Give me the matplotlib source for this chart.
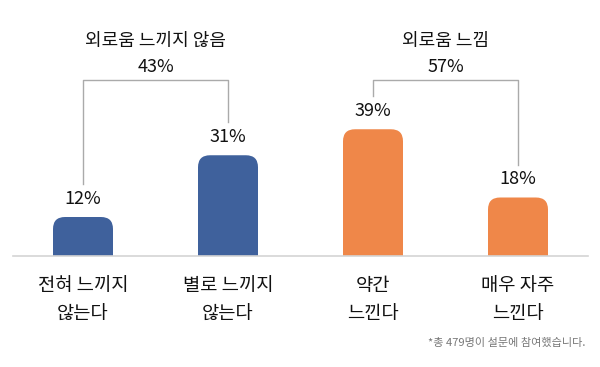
import matplotlib
matplotlib.use("Agg")
import matplotlib.pyplot as plt
from matplotlib.patches import FancyBboxPatch, Rectangle

plt.rcParams['font.family'] = ['Noto Sans CJK KR', 'DejaVu Sans']

categories = ["전혀 느끼지\n않는다", "별로 느끼지\n않는다", "약간\n느낀다", "매우 자주\n느낀다"]
values = [12, 31, 39, 18]
groups = ["외로움 느끼지 않음", "외로움 느낌"]
group_members = [(0, 1), (2, 3)]
colors = ["#3f619c", "#3f619c", "#ef8749", "#ef8749"]
footnote = "*총 479명이 설문에 참여했습니다."

W, H = 600, 367
fig = plt.figure(figsize=(W / 100, H / 100), dpi=100)
ax = fig.add_axes([0, 0, 1, 1])
ax.axis('off')

# scale: pixels
x0_px, dx_px = 83, 145
base_px, py = 256, 3.25
ax.set_xlim(-x0_px / dx_px, (W - x0_px) / dx_px)
ax.set_ylim(-(H - base_px) / py, base_px / py)

def px_y(off):  # pixel offset -> data units in y
    return off / py

def px_x(off):
    return off / dx_px

bar_w = px_x(60)
r = px_x(12)
ry = r * dx_px / py
for i, (v, c) in enumerate(zip(values, colors)):
    p = FancyBboxPatch((i - bar_w / 2 + r, ry), bar_w - 2 * r, v - 2 * ry,
                       boxstyle=f"round,pad={r},rounding_size={r}",
                       mutation_aspect=dx_px / py,
                       fc=c, ec='none', zorder=2)
    ax.add_patch(p)
    ax.add_patch(Rectangle((i - bar_w / 2, 0), bar_w, v - ry, fc=c, ec='none', zorder=2))
    ax.text(i, v + px_y(18), f"{v}%", ha='center', va='center', fontsize=13, color='#111111')
    line1, line2 = categories[i].split("\n")
    ax.text(i, px_y(-29), line1, ha='center', va='center', fontsize=13.5, color='#111111')
    ax.text(i, px_y(-58), line2, ha='center', va='center', fontsize=13.5, color='#111111')

# baseline
ax.plot([px_x(13 - x0_px), px_x(588 - x0_px)], [0, 0], color='#d4d4d4', lw=1.2, zorder=3)

# brackets
top = px_y(base_px - 80)
for g, (a, b) in zip(groups, group_members):
    va_, vb_ = values[a], values[b]
    ax.plot([a, a, b, b], [va_ + px_y(33), top, top, vb_ + px_y(33)],
            color='#aaaaaa', lw=1.0, zorder=1)
    mid = (a + b) / 2
    ax.text(mid, top + px_y(13), f"{va_ + vb_}%", ha='center', va='center', fontsize=13, color='#111111')
    ax.text(mid, top + px_y(39), g, ha='center', va='center', fontsize=13, color='#111111')

ax.text(px_x(585 - x0_px), px_y(base_px - 343), footnote, ha='right', va='center',
        fontsize=8, color='#777777')

fig.savefig("out.png", dpi=100, facecolor='white')
